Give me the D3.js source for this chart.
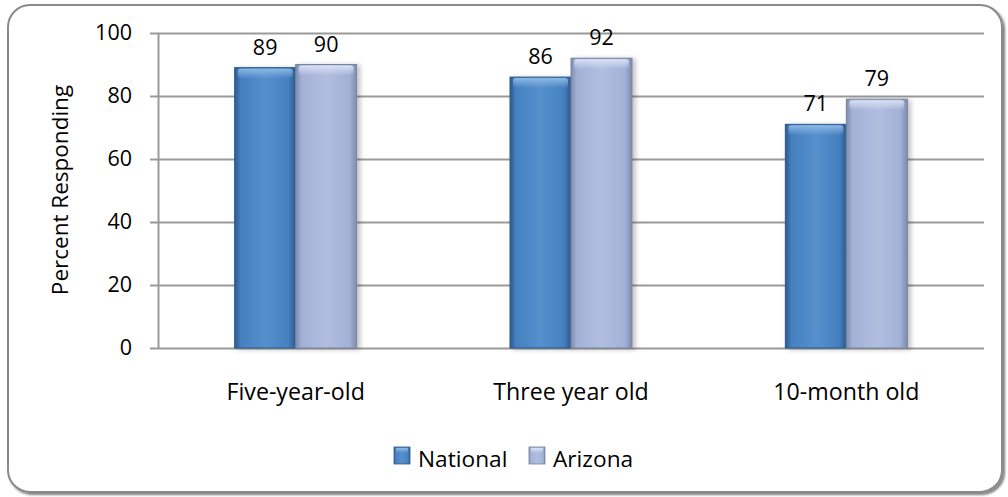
<!DOCTYPE html>
<html>
<head>
<meta charset="utf-8">
<script src="https://cdn.jsdelivr.net/npm/d3@7/dist/d3.min.js"></script>
<style>
  html, body { margin: 0; padding: 0; background: #fff; }
  svg { display: block; }
  text { font-family: "Open Sans", "Liberation Sans", sans-serif; fill: #000; }
</style>
</head>
<body>
<svg id="chart" width="1008" height="497"></svg>
<script>
// Survey results: share of respondents per age group
const categories = ["Five-year-old", "Three year old", "10-month old"];
const seriesNames = ["National", "Arizona"];
const nationalValues = [89, 86, 71];
const arizonaValues = [90, 92, 79];
const yTicks = [0, 20, 40, 60, 80, 100];

const seriesValues = [nationalValues, arizonaValues];

const svg = d3.select("#chart");
const W = 1008, H = 497;
const margin = { left: 158, right: 24, top: 33, bottom: 149 };
const plotW = W - margin.left - margin.right;
const plotH = H - margin.top - margin.bottom;
const NUM_FS = 21.5;   // tick and value labels
const CAT_FS = 23.2;   // category labels
const LEG_FS = 22.7;   // legend entries
const TITLE_FS = 22.5; // axis title

// Gradients for the bevelled bars
const defs = svg.append("defs");
const palettes = [
  { id: "gNat", edge: "#2c5a90", mid: "#4680c0", light: "#5590cc", top: "#8fbbe6", stroke: "#2c5a8e" },
  { id: "gAz",  edge: "#7f8cae", mid: "#a3b1d6", light: "#b1bee0", top: "#dbe4f6", stroke: "#76849f" }
];
palettes.forEach(p => {
  const g = defs.append("linearGradient").attr("id", p.id).attr("x1", 0).attr("x2", 1).attr("y1", 0).attr("y2", 0);
  g.append("stop").attr("offset", "0%").attr("stop-color", p.edge);
  g.append("stop").attr("offset", "10%").attr("stop-color", p.mid);
  g.append("stop").attr("offset", "50%").attr("stop-color", p.light);
  g.append("stop").attr("offset", "88%").attr("stop-color", p.mid);
  g.append("stop").attr("offset", "100%").attr("stop-color", p.edge);
  const t = defs.append("linearGradient").attr("id", p.id + "Top").attr("x1", 0).attr("x2", 0).attr("y1", 0).attr("y2", 1);
  t.append("stop").attr("offset", "0%").attr("stop-color", p.top).attr("stop-opacity", 0.95);
  t.append("stop").attr("offset", "100%").attr("stop-color", p.top).attr("stop-opacity", 0);
});
const shadow = defs.append("filter").attr("id", "barShadow").attr("x", "-20%").attr("y", "-5%").attr("width", "150%").attr("height", "115%");
shadow.append("feGaussianBlur").attr("in", "SourceAlpha").attr("stdDeviation", 2.5).attr("result", "b");
shadow.append("feOffset").attr("in", "b").attr("dx", 3).attr("dy", 1).attr("result", "o");
shadow.append("feComponentTransfer").attr("in", "o").attr("result", "s")
  .append("feFuncA").attr("type", "linear").attr("slope", 0.25);
const mrg = shadow.append("feMerge");
mrg.append("feMergeNode").attr("in", "s");
mrg.append("feMergeNode").attr("in", "SourceGraphic");

const frameShadow = defs.append("filter").attr("id", "frameShadow").attr("x", "-2%").attr("y", "-2%").attr("width", "104%").attr("height", "104%");
frameShadow.append("feGaussianBlur").attr("in", "SourceAlpha").attr("stdDeviation", 1.2).attr("result", "b");
frameShadow.append("feOffset").attr("in", "b").attr("dx", 1.5).attr("dy", 1.5).attr("result", "o");
frameShadow.append("feComponentTransfer").attr("in", "o").attr("result", "s")
  .append("feFuncA").attr("type", "linear").attr("slope", 0.5);
const fm = frameShadow.append("feMerge");
fm.append("feMergeNode").attr("in", "s");
fm.append("feMergeNode").attr("in", "SourceGraphic");

// Outer rounded frame
svg.append("rect")
  .attr("x", 8).attr("y", 5).attr("width", 994).attr("height", 487)
  .attr("rx", 22).attr("ry", 22)
  .attr("fill", "#fff").attr("stroke", "#8a8a8a").attr("stroke-width", 2)
  .attr("filter", "url(#frameShadow)");

const g = svg.append("g").attr("transform", `translate(${margin.left},${margin.top})`);

const y = d3.scaleLinear().domain([0, 100]).range([plotH, 0]);
const x0 = d3.scaleBand().domain(categories).range([0, plotW]).paddingInner(0).paddingOuter(0);
const barW = 61;
const x1 = d3.scaleBand().domain(seriesNames).range([x0.bandwidth() / 2 - barW, x0.bandwidth() / 2 + barW]).padding(0);

// Gridlines
g.append("g")
  .call(d3.axisLeft(y).tickValues(yTicks).tickSize(-plotW).tickFormat(""))
  .call(s => s.select(".domain").remove())
  .call(s => s.selectAll("line").attr("stroke", "#9a9a9a").attr("stroke-width", 2));

// Y axis with outside ticks
const yAxis = g.append("g")
  .call(d3.axisLeft(y).tickValues(yTicks).tickSize(8).tickPadding(18).tickSizeOuter(0));
yAxis.select(".domain").attr("stroke", "#9a9a9a").attr("stroke-width", 2);
yAxis.selectAll("line").attr("stroke", "#9a9a9a").attr("stroke-width", 2);
yAxis.selectAll("text").attr("font-size", NUM_FS).attr("fill", "#000");

// Bars
const groups = g.selectAll(".grp").data(categories).join("g")
  .attr("class", "grp")
  .attr("transform", d => `translate(${x0(d)},0)`);

groups.each(function(cat, ci) {
  const grp = d3.select(this);
  seriesNames.forEach((sn, si) => {
    const v = seriesValues[si][ci];
    const p = palettes[si];
    const bx = x1(sn), by = y(v), bh = plotH - y(v), bw = x1.bandwidth();
    grp.append("rect")
      .attr("x", bx).attr("y", by).attr("width", bw).attr("height", bh)
      .attr("fill", `url(#${p.id})`).attr("stroke", p.stroke).attr("stroke-width", 1)
      .attr("filter", "url(#barShadow)");
    grp.append("rect")
      .attr("x", bx + 3).attr("y", by + 1).attr("width", bw - 6).attr("height", 10)
      .attr("rx", 3)
      .attr("fill", `url(#${p.id}Top)`);
    grp.append("text")
      .attr("x", bx + bw / 2).attr("y", by - 13)
      .attr("text-anchor", "middle").attr("font-size", NUM_FS)
      .text(v);
  });
});

// Category labels
g.append("g").selectAll("text").data(categories).join("text")
  .attr("x", d => x0(d) + x0.bandwidth() / 2)
  .attr("y", plotH + 52)
  .attr("text-anchor", "middle").attr("font-size", CAT_FS)
  .text(d => d);

// Y axis title
svg.append("text")
  .attr("transform", `translate(68,190) rotate(-90)`)
  .attr("text-anchor", "middle").attr("font-size", TITLE_FS)
  .text("Percent Responding");

// Legend
const legend = svg.append("g").attr("transform", "translate(0,467)");
const legendItems = [
  { name: seriesNames[0], x: 394, p: palettes[0] },
  { name: seriesNames[1], x: 529, p: palettes[1] }
];
legendItems.forEach(it => {
  legend.append("rect")
    .attr("x", it.x).attr("y", -20).attr("width", 16).attr("height", 17)
    .attr("fill", `url(#${it.p.id})`).attr("stroke", it.p.stroke).attr("stroke-width", 0.8);
  legend.append("rect")
    .attr("x", it.x + 2).attr("y", -19).attr("width", 12).attr("height", 5)
    .attr("fill", `url(#${it.p.id}Top)`);
  legend.append("text")
    .attr("x", it.x + 24).attr("y", 0)
    .attr("font-size", LEG_FS)
    .text(it.name);
});
</script>
</body>
</html>
